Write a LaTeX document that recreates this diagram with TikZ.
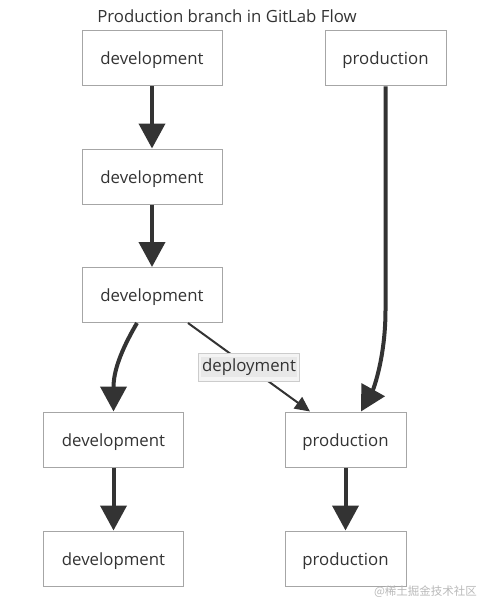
\documentclass[tikz,border=0pt]{standalone}
\usepackage{fontspec}
\setmainfont{Open Sans}
\newfontfamily\cjkfont{Noto Sans CJK SC}
\usepackage{tikz}
\usetikzlibrary{arrows.meta,positioning,calc}
\usepackage{xcolor}
\definecolor{edgegrey}{HTML}{333333}
\definecolor{boxgrey}{HTML}{A6A6A6}
\definecolor{lblline}{HTML}{CCCCCC}
\definecolor{lblfill}{HTML}{F4F4F4}
\definecolor{lblbg}{HTML}{E8E8E8}
\definecolor{txtgrey}{HTML}{333333}

\begin{document}
\begin{tikzpicture}[x=1pt, y=-1pt, font=\fontsize{16.8}{20}\selectfont, text=txtgrey,
    br/.style={draw=boxgrey, line width=1pt, fill=white, text height=14pt, text depth=1pt,
              minimum height=55pt, inner sep=0pt, align=center},
    dev/.style={br, minimum width=140pt},
    prod/.style={br, minimum width=121pt},
    flow/.style={draw=edgegrey, line width=4pt,
              -{Triangle[length=25pt,width=26pt]}},
    deploy/.style={draw=edgegrey, line width=2pt,
              -{Triangle[length=15pt,width=14pt]}},
    lbl/.style={draw=lblline, line width=1pt, fill=lblfill, inner xsep=2.5pt, inner ysep=4pt}]
\useasboundingbox (0,0) rectangle (489,615);
\node (title) at (227,16.5) {Production branch in GitLab Flow};
\node[dev] (dev1) at (152,58.5) {development};
\node[prod] (prod1) at (385.5,58.5) {production};
\node[dev, below=62pt of dev1] (dev2) {development};
\node[dev, below=62.5pt of dev2] (dev3) {development};
\node[dev] (dev4) at (113.5,439.5) {development};
\node[prod] (prod2) at (345.5,439.5) {production};
\node[dev, below=63pt of dev4] (dev5) {development};
\node[prod, below=63pt of prod2] (prod3) {production};
\draw[flow] (dev1) -- (dev2);
\draw[flow] (dev2) -- (dev3);
\draw[flow] ([xshift=-15pt]dev3.south) .. controls (120,352) and (113.5,372) .. (dev4.north);
\draw[deploy] ([xshift=36pt]dev3.south) -- node[lbl] (dep)
    {\setlength{\fboxsep}{1.5pt}\colorbox{lblbg}{deployment}} ([xshift=-35.5pt]prod2.north);
\draw[flow] (prod1.south) -- (385.5,310) .. controls (385.5,358) and (373,390) .. ([xshift=15.5pt]prod2.north);
\draw[flow] (dev4) -- (dev5);
\draw[flow] (prod2) -- (prod3);
\node[text=gray!55, font=\cjkfont\fontsize{11.5}{13}\selectfont] (mark) at (425.5,592) {@稀土掘金技术社区};
\end{tikzpicture}
\end{document}
